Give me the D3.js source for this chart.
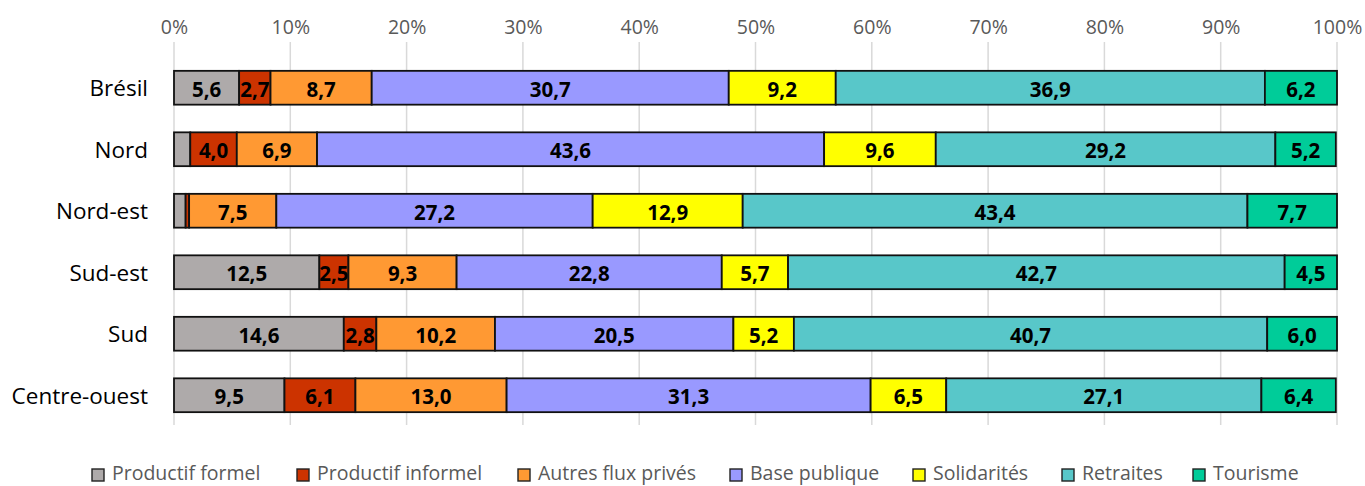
<!DOCTYPE html>
<html><head><meta charset="utf-8">
<script src="https://cdn.jsdelivr.net/npm/d3@7"></script>
<style>body{margin:0;background:#fff}svg{display:block}</style>
</head><body>
<script>
const regions = ["Brésil","Nord","Nord-est","Sud-est","Sud","Centre-ouest"];
const seriesNames = ["Productif formel","Productif informel","Autres flux privés","Base publique","Solidarités","Retraites","Tourisme"];
const productifFormel   = [5.6, 1.4, 1.0, 12.5, 14.6, 9.5];
const productifInformel = [2.7, 4.0, 0.3, 2.5, 2.8, 6.1];
const autresFluxPrives  = [8.7, 6.9, 7.5, 9.3, 10.2, 13.0];
const basePublique      = [30.7, 43.6, 27.2, 22.8, 20.5, 31.3];
const solidarites       = [9.2, 9.6, 12.9, 5.7, 5.2, 6.5];
const retraites         = [36.9, 29.2, 43.4, 42.7, 40.7, 27.1];
const tourisme          = [6.2, 5.2, 7.7, 4.5, 6.0, 6.4];
const tickValues = [0,10,20,30,40,50,60,70,80,90,100];
const colors = ["#AEAAAA","#CC3300","#FF9933","#9999FF","#FFFF00","#58C7C9","#00CC99"];

const allSeries = [productifFormel,productifInformel,autresFluxPrives,basePublique,solidarites,retraites,tourisme];
const rows = regions.map((r,i)=>{const o={region:r}; seriesNames.forEach((s,j)=>o[s]=allSeries[j][i]); return o;});

const W=1365,H=486;
const svg=d3.select("body").append("svg").attr("width",W).attr("height",H);
const font="'Open Sans', Lato, sans-serif";
const x=d3.scaleLinear().domain([0,100]).range([174,1337]);
const y=d3.scaleBand().domain(regions).range([57,426]).paddingInner(0.45).paddingOuter(0.225);

// gridlines
svg.append("g").selectAll("line").data(tickValues).join("line")
  .attr("x1",d=>x(d)).attr("x2",d=>x(d)).attr("y1",42).attr("y2",425)
  .attr("stroke","#d9d9d9").attr("stroke-width",1.5);

// axis labels
const ax=d3.axisTop(x).tickValues(tickValues).tickFormat(d=>d+"%").tickSize(0).tickPadding(0);
const axg=svg.append("g").attr("transform","translate(0,34)").call(ax);
axg.select(".domain").remove();
axg.selectAll("text").attr("fill","#595959").style("font-family",font).style("font-size","19.5px");

const stack=d3.stack().keys(seriesNames)(rows);
const g=svg.append("g");
stack.forEach((layer,j)=>{
  const lg=g.append("g");
  lg.selectAll("rect").data(layer).join("rect")
    .attr("x",d=>x(d[0])).attr("width",d=>x(d[1])-x(d[0]))
    .attr("y",d=>y(d.data.region)).attr("height",y.bandwidth())
    .attr("fill",colors[j]).attr("stroke","#111").attr("stroke-width",1.8);
  lg.selectAll("text").data(layer.filter(d=>d[1]-d[0]>=2)).join("text")
    .attr("x",d=>(x(d[0])+x(d[1]))/2).attr("y",d=>y(d.data.region)+y.bandwidth()/2+1)
    .attr("text-anchor","middle").attr("dominant-baseline","central")
    .style("font-family",font).style("font-weight","bold").style("font-size","20.5px").attr("fill","#000")
    .text(d=>d3.format(".1f")(d[1]-d[0]).replace(".",","));
});

// category labels
svg.append("g").selectAll("text").data(regions).join("text")
  .attr("x",148).attr("y",d=>y(d)+y.bandwidth()/2).attr("text-anchor","end").attr("dominant-baseline","central")
  .style("font-family",font).style("font-size","22.5px").attr("fill","#000").text(d=>d);

// legend
const legX=[92,297,518,730,913,1062,1193];
const lg=svg.append("g");
seriesNames.forEach((s,j)=>{
  lg.append("rect").attr("x",legX[j]).attr("y",469).attr("width",12).attr("height",12)
    .attr("fill",colors[j]).attr("stroke","#222").attr("stroke-width",1.4);
  lg.append("text").attr("x",legX[j]+20).attr("y",480)
    .style("font-family",font).style("font-size","19.5px").attr("fill","#595959").text(s);
});
</script>
</body></html>
